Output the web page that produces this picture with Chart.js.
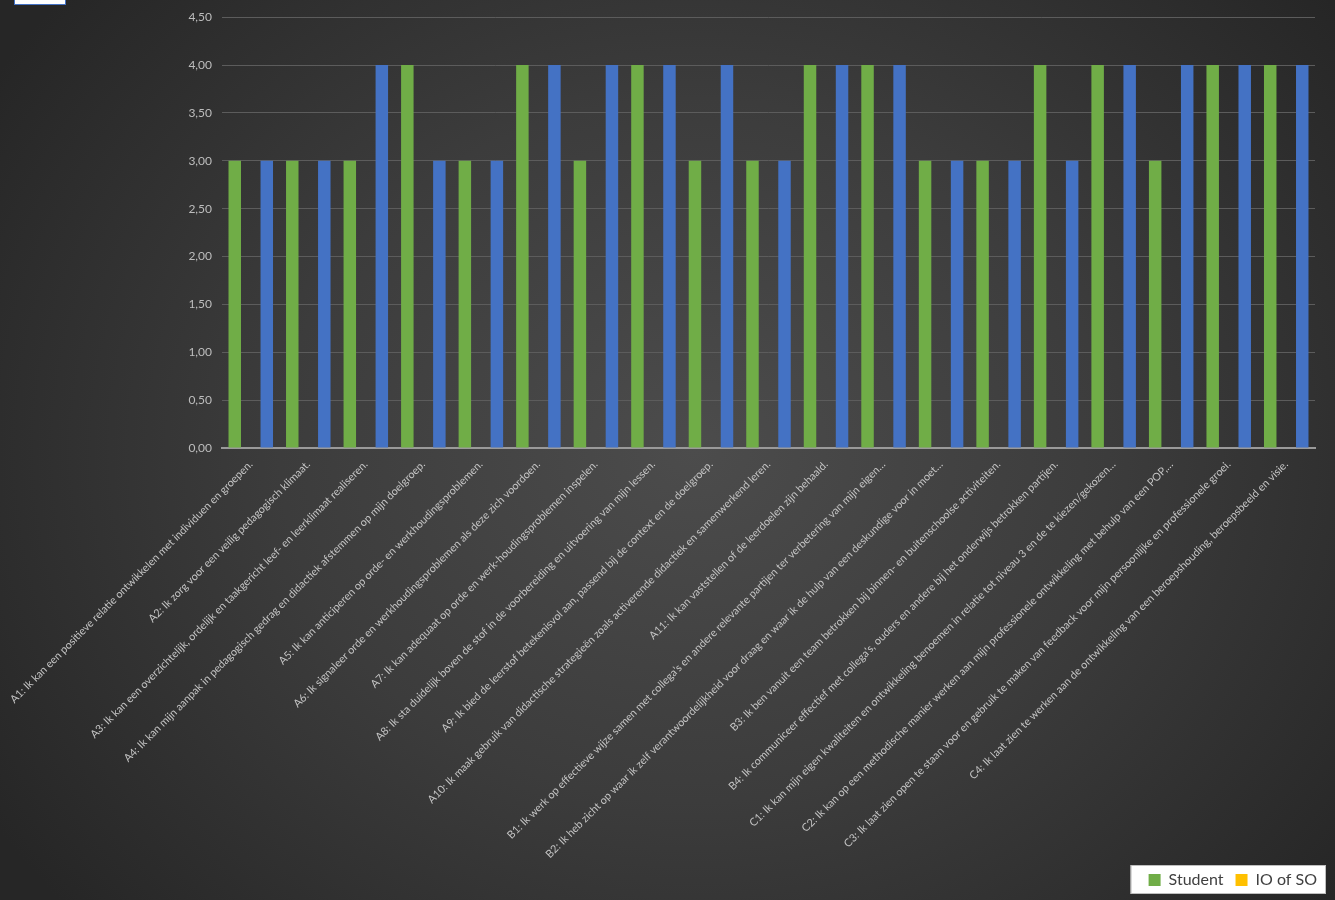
<!DOCTYPE html>
<html lang="nl">
<head>
<meta charset="utf-8">
<title>Competenties</title>
<script src="https://cdn.jsdelivr.net/npm/chart.js@4"></script>
<style>
  html,
  body {
    margin: 0;
    padding: 0;
    background: #2b2b2b;
  }
  #cadre {
    position: relative;
    width: 1335px;
    height: 900px;
    overflow: hidden;
    background: radial-gradient(ellipse 62% 78% at 52% 50%, #4c4c4c 0%, #3c3c3c 50%, #262626 100%);
  }
  #etiquette {
    position: absolute;
    left: 14px;
    top: -8px;
    width: 50px;
    height: 11px;
    background: #ffffff;
    border: 1px solid #4472c4;
  }
</style>
</head>
<body>
<div id="cadre">
  <canvas id="myChartCompetenties" width="1335" height="900"></canvas>
  <div id="etiquette"></div>
</div>

<script>
//? Données du graphique.

const categories = [
  "A1: Ik kan een positieve relatie ontwikkelen met individuen en groepen.",
  "A2: Ik zorg voor een veilig pedagogisch klimaat.",
  "A3: Ik kan een overzichtelijk, ordelijk en taakgericht leef- en leerklimaat realiseren.",
  "A4: Ik kan mijn aanpak in pedagogisch gedrag en didactiek afstemmen op mijn doelgroep.",
  "A5: Ik kan anticiperen op orde- en werkhoudingsproblemen.",
  "A6: Ik signaleer orde en werkhoudingsproblemen als deze zich voordoen.",
  "A7: Ik kan adequaat op orde en werk-houdingsproblemen inspelen.",
  "A8: Ik sta duidelijk boven de stof in de voorbereiding en uitvoering van mijn lessen.",
  "A9: Ik bied de leerstof betekenisvol aan, passend bij de context en de doelgroep.",
  "A10: Ik maak gebruik van didactische strategieën zoals activerende didactiek en samenwerkend leren.",
  "A11: Ik kan vaststellen of de leerdoelen zijn behaald.",
  "B1: Ik werk op effectieve wijze samen met collega’s en andere relevante partijen ter verbetering van mijn eigen…",
  "B2: Ik heb zicht op waar ik zelf verantwoordelijkheid voor draag en waar ik de hulp van een deskundige voor in moet…",
  "B3: Ik ben vanuit een team betrokken bij binnen- en buitenschoolse activiteiten.",
  "B4: Ik communiceer effectief met collega’s, ouders en andere bij het onderwijs betrokken partijen.",
  "C1: Ik kan mijn eigen kwaliteiten en ontwikkeling benoemen in relatie tot niveau 3 en de te kiezen/gekozen…",
  "C2: Ik kan op een methodische manier werken aan mijn professionele ontwikkeling met behulp van een POP,…",
  "C3: Ik laat zien open te staan voor en gebruik te maken van feedback voor mijn persoonlijke en professionele groei.",
  "C4: Ik laat zien te werken aan de ontwikkeling van een beroepshouding, beroepsbeeld en visie.",
];

const valeursStudent = [3, 3, 3, 4, 3, 4, 3, 4, 3, 3, 4, 4, 3, 3, 4, 4, 3, 4, 4];

const valeursIoSo = [
  null, null, null, null, null, null, null, null, null, null,
  null, null, null, null, null, null, null, null, null,
];

const valeursReeks3 = [3, 3, 4, 3, 3, 4, 4, 4, 4, 3, 4, 4, 3, 3, 3, 4, 4, 4, 4];

const ticksAxeY = [0, 0.5, 1, 1.5, 2, 2.5, 3, 3.5, 4, 4.5];

//? -------------------------------------------------

//? Fond blanc derrière la légende.

const fondLegende = {
  id: "fondLegende",
  beforeDraw(chart) {
    const legende = chart.legend;
    if (!legende || !legende.legendHitBoxes || !legende.legendHitBoxes.length) return;
    const boites = legende.legendHitBoxes;
    const gauche = Math.min(...boites.map((b) => b.left)) - 18;
    const droite = Math.max(...boites.map((b) => b.left + b.width)) + 9;
    const haut = Math.min(...boites.map((b) => b.top)) - 7;
    const bas = Math.max(...boites.map((b) => b.top + b.height)) + 6;
    const ctx = chart.ctx;
    ctx.save();
    ctx.fillStyle = "#ffffff";
    ctx.fillRect(gauche, haut, droite - gauche, bas - haut);
    ctx.strokeStyle = "#bfbfbf";
    ctx.lineWidth = 1;
    ctx.strokeRect(gauche + 0.5, haut + 0.5, droite - gauche - 1, bas - haut - 1);
    ctx.restore();
  },
};

//? -------------------------------------------------

//? Construction du graphique.

const constructionDuGraphique = () => {
  try {
    const ctx = document.getElementById("myChartCompetenties").getContext("2d");

    const data = {
      labels: categories,
      datasets: [
        {
          label: "Student",
          data: valeursStudent,
          backgroundColor: "#70ad47",
        },
        {
          label: "IO of SO",
          data: valeursIoSo,
          backgroundColor: "#ffc000",
        },
        {
          label: "Reeks3",
          data: valeursReeks3,
          backgroundColor: "#4472c4",
        },
      ],
    };

    const options = {
      responsive: false,
      animation: { duration: 0 },
      categoryPercentage: 0.835,
      barPercentage: 0.78,
      layout: {
        padding: { top: 15, right: 6, bottom: 2, left: 0 },
      },
      plugins: {
        tooltip: { enabled: false },
        legend: {
          position: "bottom",
          align: "end",
          labels: {
            boxWidth: 12,
            boxHeight: 12,
            padding: 12,
            color: "#404040",
            font: { family: "Lato", size: 16 },
            filter: (item) => item.text !== "Reeks3",
          },
        },
      },
      scales: {
        x: {
          grid: { display: false },
          border: { display: true, color: "#9a9a9a", width: 2 },
          ticks: {
            autoSkip: false,
            maxRotation: 45,
            minRotation: 45,
            padding: 2,
            color: "#c4c4c4",
            font: { family: "Lato", size: 10.8 },
          },
          afterFit: (scale) => {
            scale.height = 412;
          },
        },
        y: {
          min: 0,
          max: 4.5,
          afterBuildTicks: (scale) => {
            scale.ticks = ticksAxeY.map((v) => ({ value: v }));
          },
          grid: { color: "#5c5c5c", lineWidth: 1, drawTicks: false },
          border: { display: false },
          ticks: {
            padding: 10,
            color: "#bdbdbd",
            font: { family: "Lato", size: 12 },
            callback: (v) => Number(v).toFixed(2).replace(".", ","),
          },
          afterFit: (scale) => {
            scale.width = 222;
          },
        },
        //? Axe vide à droite, juste pour la marge du tracé.
        marge: {
          position: "right",
          display: true,
          grid: { display: false },
          border: { display: false },
          ticks: { display: false },
          afterFit: (scale) => {
            scale.width = 14;
          },
        },
      },
    };

    new Chart(ctx, {
      type: "bar",
      data,
      options,
      plugins: [fondLegende],
    });
  } catch (error) {
    console.log("🔴 ERREUR | Construction graphique :", error);
  }
};

constructionDuGraphique();
</script>
</body>
</html>
